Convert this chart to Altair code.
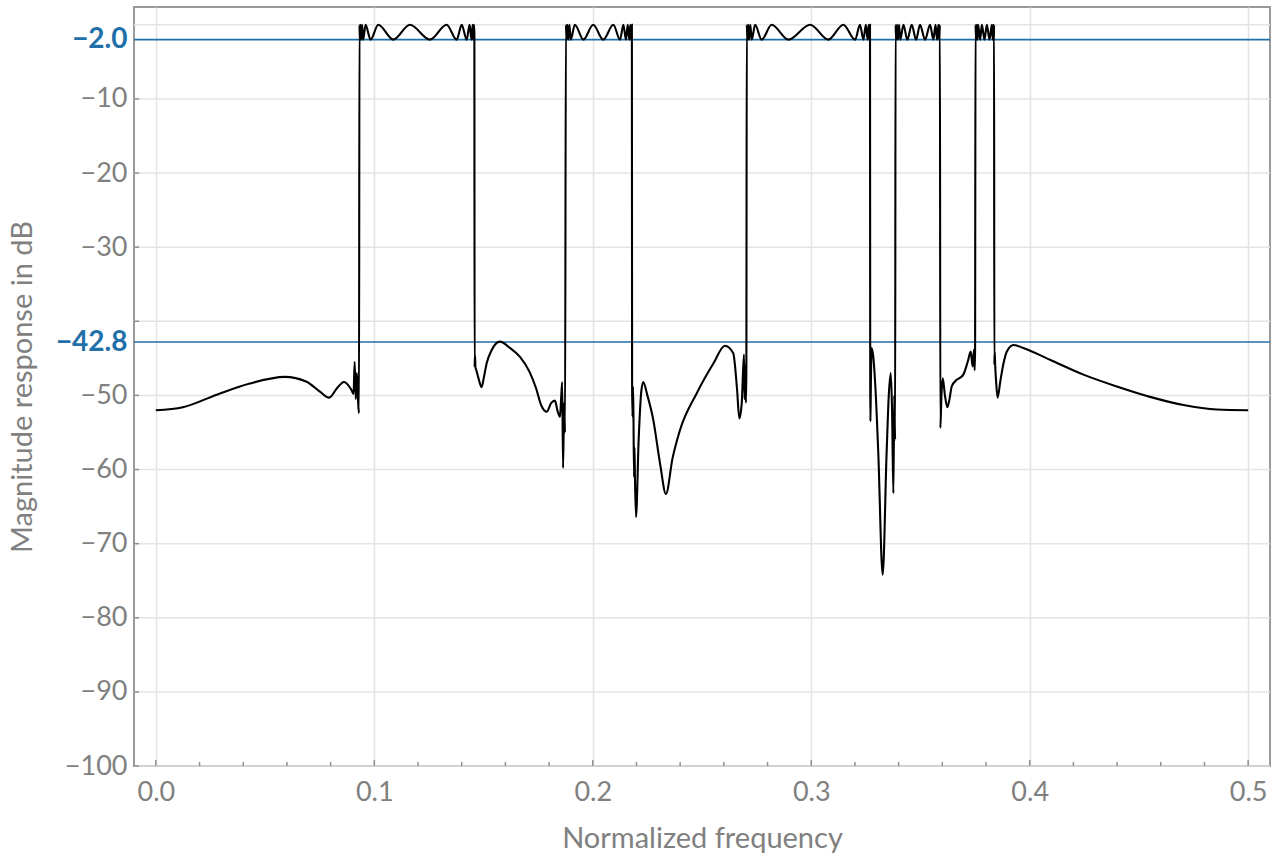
import altair as alt
import pandas as pd

# ---- data ----
FREQ = [
    # stopband 1
    0.0, 0.0124, 0.0279, 0.043, 0.059, 0.069, 0.0751, 0.0793, 0.0830, 0.0861, 0.0896,
    0.0905, 0.0910, 0.0915, 0.0920, 0.0926, 0.0930,
    # passband 1
    0.0932, 0.0934, 0.0937, 0.0940, 0.0944, 0.0949, 0.0960, 0.0983, 0.1018, 0.1087,
    0.1163, 0.1255, 0.1331, 0.1377, 0.1400, 0.1423, 0.1436, 0.1445, 0.1450, 0.1453,
    0.1456, 0.1458,
    # stopband 2
    0.1459, 0.1461, 0.1463, 0.1466, 0.1478, 0.1491, 0.1502, 0.1514, 0.1537, 0.1575,
    0.1621, 0.1667, 0.1710, 0.1740, 0.1765, 0.1789, 0.1810, 0.1827, 0.1838, 0.1850, 0.1855,
    0.1860, 0.1864, 0.1869, 0.1873,
    # passband 2
    0.1877, 0.1880, 0.1884, 0.1888, 0.1893, 0.1899, 0.1918, 0.1957, 0.2002, 0.2048,
    0.2094, 0.2125, 0.2140, 0.2152, 0.2160, 0.2167, 0.2172, 0.2176, 0.2179,
    # stopband 3
    0.2180, 0.2182, 0.2184, 0.2186, 0.2189, 0.2191, 0.2193, 0.2198, 0.2210, 0.2222,
    0.2231, 0.2250, 0.2277, 0.2308, 0.2335, 0.2365, 0.2399, 0.2476, 0.2552, 0.2605, 0.2643,
    0.2660, 0.2671, 0.2682, 0.2692, 0.2695, 0.2698, 0.2701, 0.2703,
    # passband 3
    0.2705, 0.2708, 0.2712, 0.2716, 0.2721, 0.2728, 0.2743, 0.2773, 0.2819, 0.2895,
    0.2995, 0.3078, 0.3147, 0.3201, 0.3223, 0.3239, 0.3250, 0.3258, 0.3263, 0.3267,
    0.3269,
    # stopband 4
    0.3270, 0.3271, 0.3273, 0.3276, 0.3283, 0.3293, 0.3307, 0.3327, 0.3345, 0.3355,
    0.3364, 0.3370, 0.3376, 0.3380, 0.3384,
    # passband 4
    0.3386, 0.3389, 0.3393, 0.3397, 0.3402, 0.3408, 0.3422, 0.3440, 0.3460, 0.3480,
    0.3498, 0.3521, 0.3544, 0.3559, 0.3569, 0.3576, 0.3582, 0.3586, 0.3589,
    # stopband 5
    0.3591, 0.3596, 0.3602, 0.3612, 0.3623, 0.3633, 0.3643, 0.3666, 0.3682, 0.3696,
    0.3717, 0.3730, 0.3739, 0.3745, 0.3748, 0.3750,
    # passband 5
    0.3752, 0.3755, 0.3758, 0.3761, 0.3764, 0.3773, 0.3781, 0.3793, 0.3804, 0.3816,
    0.3827, 0.3831, 0.3834, 0.3836, 0.3837,
    # stopband 6
    0.3838, 0.3840, 0.3842, 0.3846, 0.3853, 0.3866, 0.3880, 0.3895, 0.3926, 0.3971,
    0.4093, 0.4246, 0.4399, 0.4551, 0.4704, 0.4857, 0.5,
]

MAG_DB = [
    # stopband 1
    -52.0, -51.6, -49.9, -48.4, -47.5, -48.15, -49.5, -50.3, -49.0, -48.2, -49.3,
    -49.8, -45.5, -50.5, -47.0, -51.0, -52.4,
    # passband 1
    0.0, -2.0, 0.0, -2.0, 0.0, -2.0, 0.0, -2.0, 0.0, -2.0,
    0.0, -2.0, 0.0, -2.0, 0.0, -2.0, 0.0, -2.0, 0.0, -2.0,
    0.0, -1.0,
    # stopband 2
    -46.2, -44.6, -46.2, -46.5, -47.8, -48.9, -47.5, -45.7, -43.9, -42.75,
    -43.6, -44.8, -46.8, -49.0, -51.4, -52.2, -51.0, -50.7, -52.0, -52.9, -50.5,
    -48.2, -59.8, -51.0, -55.0,
    # passband 2
    0.0, -2.0, 0.0, -2.0, 0.0, -2.0, 0.0, -2.0, 0.0, -2.0,
    0.0, -2.0, 0.0, -2.0, 0.0, -2.0, 0.0, -2.0, 0.0,
    # stopband 3
    -48.8, -52.9, -48.8, -52.0, -61.0, -57.0, -61.0, -66.4, -56.0, -49.5,
    -48.2, -50.0, -53.3, -59.2, -63.3, -58.5, -54.7, -49.7, -45.7, -43.3, -44.3,
    -49.0, -53.1, -51.0, -44.5, -50.5, -46.0, -51.0, -47.0,
    # passband 3
    0.0, -2.0, 0.0, -2.0, 0.0, -2.0, 0.0, -2.0, 0.0, -2.0,
    0.0, -2.0, 0.0, -2.0, 0.0, -2.0, 0.0, -2.0, 0.0, -2.0,
    0.0,
    # stopband 4
    -49.0, -53.5, -48.5, -43.6, -44.5, -48.5, -57.8, -74.2, -57.8, -50.0,
    -47.0, -52.0, -63.2, -50.0, -56.0,
    # passband 4
    0.0, -2.0, 0.0, -2.0, 0.0, -2.0, 0.0, -2.0, 0.0, -2.0,
    0.0, -2.0, 0.0, -2.0, 0.0, -2.0, 0.0, -2.0, 0.0,
    # stopband 5
    -54.4, -50.0, -47.7, -50.0, -51.6, -50.5, -48.8, -47.9, -47.6, -47.2,
    -45.4, -44.1, -46.1, -43.8, -46.6, -44.0,
    # passband 5
    0.0, -2.0, 0.0, -2.0, 0.0, -2.0, 0.0, -2.0, 0.0, -2.0,
    0.0, -2.0, 0.0, -2.0, 0.0,
    # stopband 6
    -45.9, -44.1, -45.9, -48.0, -50.3, -48.0, -45.7, -44.1, -43.2, -43.6,
    -45.2, -47.2, -48.8, -50.2, -51.3, -51.9, -52.0,
]

X_MAJOR = [0.0, 0.1, 0.2, 0.3, 0.4, 0.5]
X_MINOR = [0.02, 0.04, 0.06, 0.08, 0.12, 0.14, 0.16, 0.18, 0.22, 0.24, 0.26, 0.28,
           0.32, 0.34, 0.36, 0.38, 0.42, 0.44, 0.46, 0.48]
Y_GRID = [0, -10, -20, -30, -40, -50, -60, -70, -80, -90, -100]
Y_TICKS = [-10, -20, -30, -40, -50, -60, -70, -80, -90, -100]
Y_LABELS = [-2.0, -10, -20, -30, -42.8, -50, -60, -70, -80, -90, -100]
REF_LEVELS = [-2.0, -42.8]

FONT = "Lato"
GRAY = "#808080"
BLUE = "#1f6fa8"
W, H = 1136, 759

df = pd.DataFrame({"f": FREQ, "db": MAG_DB, "i": list(range(len(FREQ)))})

xscale = alt.Scale(domain=[-0.01, 0.51], nice=False, zero=False)
yscale = alt.Scale(domain=[-100, 2.4], nice=False, zero=False)

label_test = "datum.value == -2 || datum.value == -42.8"

X_AXIS = alt.Axis(
    title="Normalized frequency", values=X_MAJOR, format=".1f",
    grid=True, gridColor="#e4e4e4", gridWidth=1.5,
    ticks=False, domain=False, labelPadding=13,
    labelFontSize=27, labelFont=FONT, labelColor=GRAY,
    titleFont=FONT, titleFontSize=29, titleColor=GRAY,
    titleFontWeight="normal", titlePadding=19,
)
Y_AXIS = alt.Axis(
    title="Magnitude response in dB", values=Y_LABELS,
    labelExpr="(datum.value == -2 || datum.value == -42.8) ? format(datum.value, '.1f') : format(datum.value, 'd')",
    grid=False, ticks=False, domain=False, labelPadding=7,
    labelFont=FONT,
    labelFontSize={"condition": {"test": label_test, "value": 28}, "value": 27},
    labelColor={"condition": {"test": label_test, "value": BLUE}, "value": GRAY},
    labelFontWeight={"condition": {"test": label_test, "value": "bold"}, "value": "normal"},
    titleFont=FONT, titleFontSize=29, titleColor=GRAY,
    titleFontWeight="normal", titlePadding=18,
)

ygrid = alt.Chart(pd.DataFrame({"db": Y_GRID})).mark_rule(
    color="#e4e4e4", strokeWidth=1.5
).encode(y=alt.Y("db:Q", scale=yscale, axis=Y_AXIS))

ref = alt.Chart(pd.DataFrame({"db": REF_LEVELS})).mark_rule(
    color=BLUE, strokeWidth=1.6
).encode(y=alt.Y("db:Q", scale=yscale, axis=Y_AXIS))

curve = alt.Chart(df).mark_line(
    color="black", strokeWidth=2.1, interpolate="monotone"
).encode(
    x=alt.X("f:Q", scale=xscale, axis=X_AXIS),
    y=alt.Y("db:Q", scale=yscale, axis=Y_AXIS),
    order="i:Q",
)

xmaj = alt.Chart(pd.DataFrame({"f": X_MAJOR})).mark_rule(color="#909090", strokeWidth=1.5).encode(
    x=alt.X("f:Q", scale=xscale, axis=X_AXIS), y=alt.value(H), y2=alt.value(H - 6))
xmin = alt.Chart(pd.DataFrame({"f": X_MINOR})).mark_rule(color="#909090", strokeWidth=1.5).encode(
    x=alt.X("f:Q", scale=xscale, axis=X_AXIS), y=alt.value(H), y2=alt.value(H - 4))
yt = alt.Chart(pd.DataFrame({"db": Y_TICKS})).mark_rule(color="#909090", strokeWidth=1.5).encode(
    y=alt.Y("db:Q", scale=yscale, axis=Y_AXIS), x=alt.value(0), x2=alt.value(5))

chart = alt.layer(ygrid, ref, curve, xmaj, xmin, yt).properties(
    width=W, height=H,
    autosize=alt.AutoSizeParams(type="none"),
    padding={"left": 134, "top": 7, "right": 7, "bottom": 90},
    background="white",
).configure_view(stroke="#9a9a9a", strokeWidth=2)

chart.save("out.html", embed_options={"renderer": "svg", "actions": False})
